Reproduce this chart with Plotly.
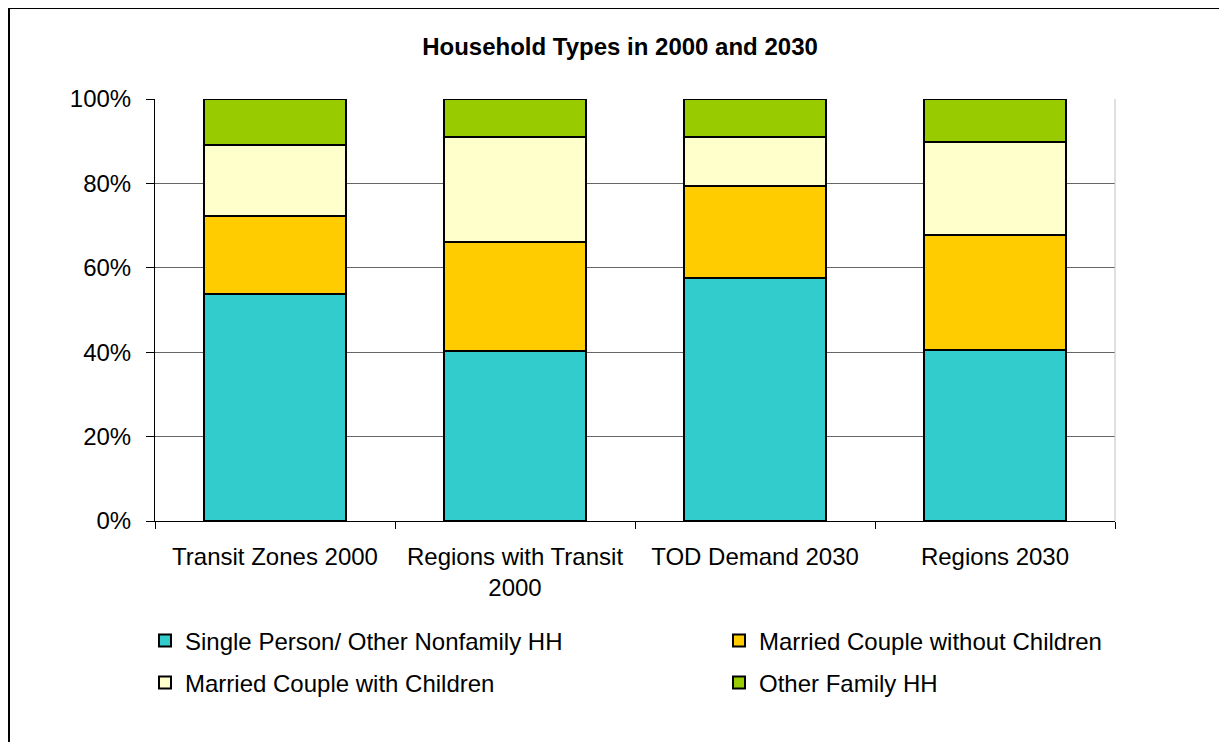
import plotly.graph_objects as go

categories = ["Transit Zones 2000", "Regions with Transit 2000", "TOD Demand 2030", "Regions 2030"]
tick_labels = ["Transit Zones 2000", "Regions with Transit<br>2000", "TOD Demand 2030", "Regions 2030"]

single_person = [0.539, 0.403, 0.576, 0.405]
married_no_children = [0.183, 0.259, 0.217, 0.273]
married_with_children = [0.169, 0.247, 0.116, 0.220]
other_family = [0.109, 0.091, 0.091, 0.102]

series_names = ["Single Person/ Other Nonfamily HH", "Married Couple without Children",
                "Married Couple with Children", "Other Family HH"]
series_values = [single_person, married_no_children, married_with_children, other_family]
series_colors = ["#33CCCC", "#FFCC00", "#FFFFCC", "#99CC00"]

# page body has an 8px margin, so figure coords = page coords - 8
OFF = 8
W, H = 1227, 742
L = 155 - OFF
T = 99 - OFF
R = W - (1115 - OFF)
B = H - (521 - OFF)
pw, ph = W - L - R, H - T - B

FONT = "Liberation Sans, Arial, sans-serif"

fig = go.Figure()
legend_ids = ["legend", "legend2", "legend3", "legend4"]
for name, vals, col, lg in zip(series_names, series_values, series_colors, legend_ids):
    fig.add_trace(go.Bar(
        x=categories, y=vals, name=name, legend=lg, showlegend=True,
        marker=dict(color=col, line=dict(color="black", width=2)),
    ))

# legend item left edge (page px) and row center (page px)
leg_pos = [(145, 641), (719, 641), (145, 683), (719, 683)]
leg_layout = {}
for lg, (px, py) in zip(legend_ids, leg_pos):
    fx, fy = px - OFF, py - OFF
    leg_layout[lg] = dict(
        x=(fx - L) / pw, y=(H - B - fy) / ph, xanchor="left", yanchor="middle",
        orientation="h", font=dict(family=FONT, size=24, color="black"),
        bgcolor="rgba(0,0,0,0)", borderwidth=0, traceorder="normal",
        visible=True,
    )

fig.update_layout(
    width=W, height=H,
    margin=dict(l=L, r=R, t=T, b=B),
    barmode="stack", bargap=0.41,
    showlegend=True,
    plot_bgcolor="white", paper_bgcolor="white",
    font=dict(family=FONT, size=24, color="black"),
    title=dict(text="<b>Household Types in 2000 and 2030</b>",
               x=(620 - OFF) / W, xref="container", xanchor="center",
               y=1 - (47 - OFF) / H, yref="container", yanchor="middle",
               font=dict(family=FONT, size=24, color="black")),
    xaxis=dict(
        tickmode="array", tickvals=categories, ticktext=tick_labels,
        tickson="boundaries", ticks="outside", ticklen=7, tickcolor="black",
        showline=True, linecolor="black", linewidth=1, showgrid=False,
        ticklabelstandoff=14,
        tickfont=dict(family=FONT, size=24, color="black"),
    ),
    yaxis=dict(
        range=[0, 1], dtick=0.2, tickformat=".0%",
        ticks="outside", ticklen=8, tickcolor="black",
        showline=True, linecolor="black", linewidth=1,
        showgrid=True, gridcolor="#666666", gridwidth=1,
        zeroline=False, ticklabelstandoff=10,
        tickfont=dict(family=FONT, size=24, color="black"),
    ),
    shapes=[
        dict(type="line", xref="paper", yref="paper", x0=1, x1=1, y0=0, y1=1,
             line=dict(color="#C0C0C0", width=1)),
        dict(type="rect", xref="paper", yref="paper",
             x0=(1 - L) / pw, x1=1.3, y0=-0.7, y1=(H - B + 0) / ph,
             line=dict(color="black", width=2), fillcolor="rgba(0,0,0,0)"),
    ],
    **leg_layout,
)

fig.write_html("out.html")
